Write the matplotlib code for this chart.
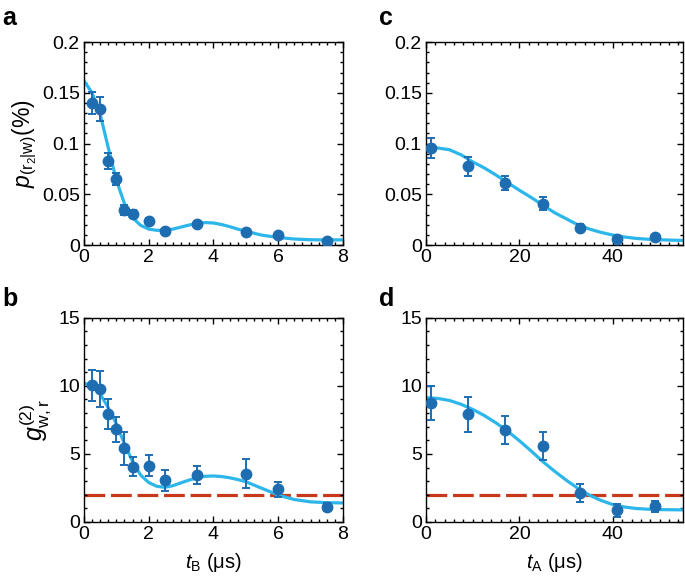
import numpy as np
import matplotlib
matplotlib.use('Agg')
import matplotlib.pyplot as plt
from matplotlib.ticker import MultipleLocator

plt.rcParams['font.family'] = ['Liberation Sans', 'DejaVu Sans']
plt.rcParams['mathtext.fontset'] = 'custom'
plt.rcParams['mathtext.rm'] = 'Liberation Sans'
plt.rcParams['mathtext.it'] = 'Liberation Sans:italic'

# panel a / b : storage time t_B (us)
tB = [0.25, 0.5, 0.75, 1.0, 1.25, 1.5, 2.0, 2.5, 3.5, 5.0, 6.0, 7.5]
p_B = [0.140, 0.134, 0.083, 0.065, 0.035, 0.031, 0.024, 0.0135, 0.0208, 0.013, 0.0099, 0.0043]
p_B_err = [0.011, 0.012, 0.008, 0.006, 0.005, 0.004, 0.003, 0.002, 0.002, 0.002, 0.0012, 0.001]
g_B = [10.05, 9.8, 7.9, 6.8, 5.4, 4.05, 4.15, 3.05, 3.45, 3.55, 2.4, 1.1]
g_B_err = [1.15, 1.33, 1.1, 0.9, 1.22, 0.69, 0.78, 0.75, 0.63, 1.06, 0.53, 0.3]

# fitted curves
tB_fit = [0, 0.25, 0.5, 0.75, 1.0, 1.25, 1.5, 1.75, 2.0, 2.25, 2.5, 2.75, 3.0, 3.25,
          3.5, 3.75, 4.0, 4.25, 4.5, 4.75, 5.0, 5.5, 6.0, 6.5, 7.0, 7.5, 8.0]
p_B_fit = [0.162, 0.150, 0.129, 0.096, 0.064, 0.041, 0.027, 0.0195, 0.0158, 0.0146, 0.0146,
           0.0158, 0.0178, 0.0198, 0.0214, 0.0222, 0.0218, 0.0203, 0.0182, 0.0158, 0.0136,
           0.0098, 0.0075, 0.006, 0.0053, 0.0051, 0.0052]
g_B_fit = [10.2, 10.0, 9.4, 8.4, 7.2, 5.75, 4.45, 3.45, 2.9, 2.62, 2.55, 2.67, 2.88, 3.08,
           3.25, 3.36, 3.38, 3.34, 3.25, 3.12, 2.96, 2.47, 1.98, 1.65, 1.48, 1.42, 1.4]

# panel c / d : retrieval time t_A (us)
tA = [1, 9, 17, 25, 33, 41, 49]
p_A = [0.0955, 0.0775, 0.061, 0.041, 0.0172, 0.0058, 0.0077]
p_A_err = [0.0099, 0.009, 0.007, 0.006, 0.0035, 0.002, 0.0015]
g_A = [8.75, 7.9, 6.78, 5.6, 2.15, 0.85, 1.15]
g_A_err = [1.27, 1.28, 1.02, 1.02, 0.67, 0.45, 0.42]

tA_fit = [0, 2.5, 5, 7.5, 10, 12.5, 15, 17.5, 20, 22.5, 25, 27.5, 30, 32.5, 35, 37.5,
          40, 42.5, 45, 47.5, 50, 52.5, 55]
p_A_fit = [0.0962, 0.0957, 0.094, 0.089, 0.082, 0.076, 0.069, 0.0615, 0.054, 0.047, 0.0395,
           0.032, 0.026, 0.020, 0.0158, 0.0125, 0.0099, 0.0080, 0.0066, 0.0058, 0.0053,
           0.0049, 0.0046]
g_A_fit = [9.13, 9.08, 8.93, 8.65, 8.27, 7.82, 7.28, 6.66, 5.97, 5.22, 4.44, 3.74, 3.08,
           2.48, 1.97, 1.58, 1.28, 1.1, 0.99, 0.94, 0.91, 0.9, 0.89]

g_threshold = 2

dot = '#1f6db1'
fit = '#2cb6ea'
red = '#c8391c'

fig = plt.figure(figsize=(6.85, 5.85), dpi=100)
ax_a = fig.add_axes([0.1226, 0.581, 0.378, 0.347])
ax_b = fig.add_axes([0.1226, 0.1077, 0.378, 0.349])
ax_c = fig.add_axes([0.6219, 0.581, 0.375, 0.347])
ax_d = fig.add_axes([0.6219, 0.1077, 0.375, 0.349])


def style(ax, xmax, xmaj, xmin, ymax, ymaj, ymin):
    ax.set_xlim(0, xmax)
    ax.set_ylim(0, ymax)
    ax.xaxis.set_major_locator(MultipleLocator(xmaj))
    ax.xaxis.set_minor_locator(MultipleLocator(xmin))
    ax.yaxis.set_major_locator(MultipleLocator(ymaj))
    ax.yaxis.set_minor_locator(MultipleLocator(ymin))
    ax.tick_params(which='both', direction='in', top=True, right=True, labelsize=14, width=1)
    ax.tick_params(which='major', length=4.5, pad=3)
    ax.tick_params(which='minor', length=2.2)
    for s in ax.spines.values():
        s.set_linewidth(1)


def draw(ax, x, y, e, xf, yf):
    ax.plot(xf, yf, color=fit, lw=2.3, zorder=2)
    ax.errorbar(x, y, yerr=e, fmt='o', color=dot, ms=7.5, elinewidth=1.4,
                capsize=3, capthick=1.4, zorder=3)


draw(ax_a, tB, p_B, p_B_err, tB_fit, p_B_fit)
draw(ax_b, tB, g_B, g_B_err, tB_fit, g_B_fit)
draw(ax_c, tA, p_A, p_A_err, tA_fit, p_A_fit)
draw(ax_d, tA, g_A, g_A_err, tA_fit, g_A_fit)

for ax in (ax_b, ax_d):
    ax.axhline(g_threshold, color=red, lw=2.3, dashes=(6.5, 1.8), zorder=1)

style(ax_a, 8, 2, 0.25, 0.2, 0.05, 0.01)
style(ax_b, 8, 2, 0.25, 15, 5, 1)
style(ax_c, 55, 20, 2, 0.2, 0.05, 0.01)
style(ax_d, 55, 20, 2, 15, 5, 1)

for ax in (ax_a, ax_c):
    ax.set_yticks([0, 0.05, 0.1, 0.15, 0.2])
    ax.set_yticklabels(['0', '0.05', '0.1', '0.15', '0.2'])

ax_a.set_ylabel(r'$p_{(\mathrm{r_2|w})}$(%)', fontsize=16.5, labelpad=2)
ax_b.set_ylabel(r'$g^{(2)}_{\mathrm{w,r}}$', fontsize=18, labelpad=4)
ax_b.set_xlabel(r'$t_\mathrm{B}$ ($\mathrm{\mu}$s)', fontsize=14.5, labelpad=6)
ax_d.set_xlabel(r'$t_\mathrm{A}$ ($\mathrm{\mu}$s)', fontsize=14.5, labelpad=6)

for lbl, x, y in [('a', 0.003, 0.99), ('b', 0.003, 0.51), ('c', 0.553, 0.99), ('d', 0.553, 0.51)]:
    fig.text(x, y, lbl, fontsize=18, fontweight='bold', va='top', ha='left')

plt.savefig('out.png', dpi=100)
